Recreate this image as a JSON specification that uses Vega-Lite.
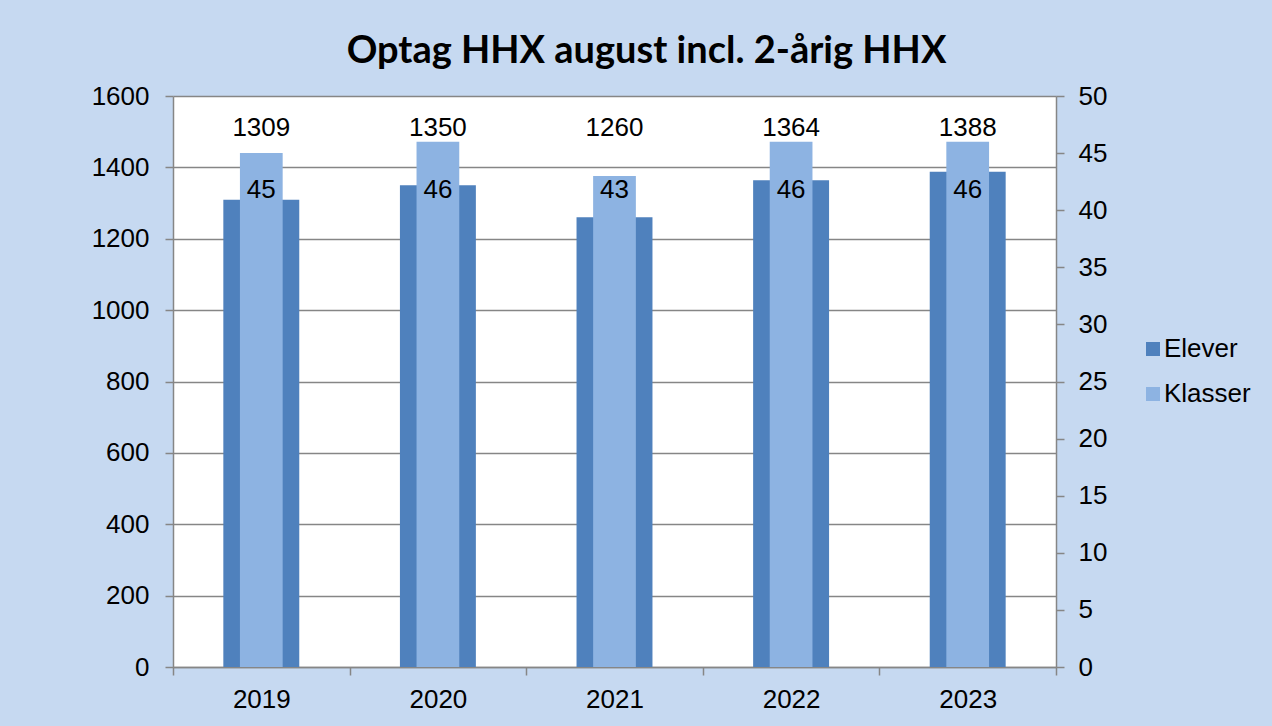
{
  "$schema": "https://vega.github.io/schema/vega-lite/v6.json",
  "width": 883,
  "height": 571,
  "autosize": {"type": "none"},
  "padding": {"left": 173, "top": 96, "right": 216, "bottom": 59},
  "background": "#C6D9F1",
  "title": {
    "text": "Optag HHX august incl. 2-årig HHX",
    "font": "Lato",
    "fontWeight": "bold",
    "fontSize": 38,
    "color": "#000000",
    "anchor": "middle",
    "dx": 32,
    "offset": 12
  },
  "data": {
    "values": [
      {"year": "2019", "series": "Elever", "value": 1309},
      {"year": "2020", "series": "Elever", "value": 1350},
      {"year": "2021", "series": "Elever", "value": 1260},
      {"year": "2022", "series": "Elever", "value": 1364},
      {"year": "2023", "series": "Elever", "value": 1388},
      {"year": "2019", "series": "Klasser", "value": 45},
      {"year": "2020", "series": "Klasser", "value": 46},
      {"year": "2021", "series": "Klasser", "value": 43},
      {"year": "2022", "series": "Klasser", "value": 46},
      {"year": "2023", "series": "Klasser", "value": 46}
    ]
  },
  "encoding": {
    "x": {
      "field": "year",
      "type": "nominal",
      "scale": {"paddingInner": 0, "paddingOuter": 0},
      "axis": {
        "title": null,
        "labelAngle": 0,
        "tickBand": "extent",
        "tickSize": 8,
        "labelPadding": 11
      }
    }
  },
  "layer": [
    {
      "transform": [{"filter": "datum.series === 'Elever'"}],
      "layer": [
        {
          "mark": {"type": "bar", "width": {"band": 0.43}},
          "encoding": {
            "y": {
              "field": "value",
              "type": "quantitative",
              "scale": {"domain": [0, 1600], "nice": false},
              "axis": {
                "title": null,
                "orient": "left",
                "format": "d",
                "values": [0, 200, 400, 600, 800, 1000, 1200, 1400, 1600],
                "grid": true,
                "labelPadding": 16
              }
            },
            "color": {
              "field": "series",
              "type": "nominal",
              "scale": {"domain": ["Elever", "Klasser"], "range": ["#4F81BD", "#8DB3E2"]},
              "legend": {
                "title": null,
                "orient": "none",
                "legendX": 967,
                "legendY": 240,
                "symbolType": "square",
                "symbolSize": 196,
                "symbolStrokeWidth": 0,
                "labelFont": "Liberation Sans",
                "labelFontSize": 26,
                "labelColor": "#000000",
                "labelOffset": -2,
                "rowPadding": 19,
                "padding": 0
              }
            }
          }
        },
        {
          "mark": {"type": "text", "font": "Liberation Sans", "fontSize": 26, "color": "#000000", "baseline": "middle"},
          "encoding": {
            "y": {"datum": 1510},
            "text": {"field": "value", "type": "quantitative"}
          }
        }
      ]
    },
    {
      "transform": [{"filter": "datum.series === 'Klasser'"}],
      "layer": [
        {
          "mark": {"type": "bar", "width": {"band": 0.242}},
          "encoding": {
            "y": {
              "field": "value",
              "type": "quantitative",
              "scale": {"domain": [0, 50], "nice": false},
              "axis": {
                "title": null,
                "orient": "right",
                "values": [0, 5, 10, 15, 20, 25, 30, 35, 40, 45, 50],
                "grid": false,
                "labelPadding": 14
              }
            },
            "color": {"field": "series", "type": "nominal"}
          }
        },
        {
          "mark": {"type": "text", "font": "Liberation Sans", "fontSize": 26, "color": "#000000", "baseline": "middle"},
          "encoding": {
            "y": {"datum": 41.8},
            "text": {"field": "value", "type": "quantitative"}
          }
        }
      ]
    }
  ],
  "resolve": {"scale": {"y": "independent"}},
  "config": {
    "view": {"stroke": null, "fill": "#FFFFFF"},
    "axis": {
      "labelFont": "Liberation Sans",
      "labelFontSize": 26,
      "labelColor": "#000000",
      "domainColor": "#868686",
      "domainWidth": 1.5,
      "tickColor": "#868686",
      "tickWidth": 1.5,
      "tickSize": 8,
      "gridColor": "#868686",
      "gridWidth": 1.5,
      "gridOpacity": 1
    }
  }
}
